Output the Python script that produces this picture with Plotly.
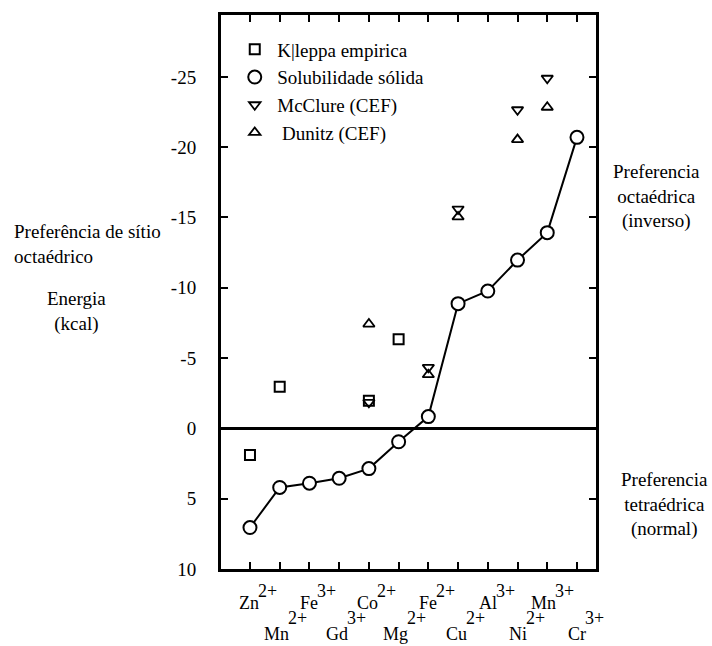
import plotly.graph_objects as go

# Cations along the x axis (symbol, charge)
cations = ["Zn", "Mn", "Fe", "Gd", "Co", "Mg", "Fe", "Cu", "Al", "Ni", "Mn", "Cr"]
charges = ["2+", "2+", "3+", "3+", "2+", "2+", "2+", "2+", "3+", "2+", "3+", "3+"]

# Octahedral site preference energy (kcal), solid-solubility series
solubilidade = [7.05, 4.2, 3.9, 3.55, 2.86, 0.95, -0.84, -8.87, -9.77, -11.97, -13.92, -20.7]

# Kleppa empirical values (cation index, energy)
kleppa_idx = [0, 1, 4, 5]
kleppa_val = [1.9, -2.97, -1.96, -6.34]

# Crystal-field estimates
mcclure_idx = [4, 6, 7, 9, 10]
mcclure_val = [-1.85, -4.34, -15.6, -22.66, -24.9]
dunitz_idx = [4, 6, 7, 9, 10]
dunitz_val = [-7.42, -3.82, -15.04, -20.54, -22.84]

y_ticks = [-25, -20, -15, -10, -5, 0, 5, 10]

FONT = "'Liberation Serif', 'Times New Roman', Times, serif"
n = len(cations)
x_all = list(range(n))

fig = go.Figure()

# connecting line of the solid-solubility series
fig.add_trace(go.Scatter(
    x=x_all, y=solubilidade, mode="lines",
    line=dict(color="black", width=2), showlegend=False, hoverinfo="skip"))

fig.add_trace(go.Scatter(
    x=kleppa_idx, y=kleppa_val, mode="markers", name="K|leppa empirica",
    marker=dict(symbol="square-open", size=10, color="black", line=dict(width=2))))

fig.add_trace(go.Scatter(
    x=x_all, y=solubilidade, mode="markers", name="Solubilidade sólida",
    marker=dict(symbol="circle", size=13, color="white",
                line=dict(color="black", width=2))))

fig.add_trace(go.Scatter(
    x=mcclure_idx, y=mcclure_val, mode="markers", name="McClure (CEF)",
    marker=dict(symbol="triangle-down-open", size=10, color="black", line=dict(width=1.8))))

fig.add_trace(go.Scatter(
    x=dunitz_idx, y=dunitz_val, mode="markers", name=" Dunitz (CEF)",
    marker=dict(symbol="triangle-up-open", size=10, color="black", line=dict(width=1.8))))

fig.update_layout(
    width=712, height=646,
    margin=dict(l=221, r=116, t=12, b=77),
    paper_bgcolor="white", plot_bgcolor="white",
    font=dict(family=FONT, size=19, color="black"),
    showlegend=True,
    legend=dict(x=0.03, y=0.972, xanchor="left", yanchor="top",
                bgcolor="rgba(0,0,0,0)", borderwidth=0, itemwidth=35,
                font=dict(family=FONT, size=19, color="black"),
                tracegroupgap=0),
)

fig.update_xaxes(
    range=[-0.975, 11.64], tickmode="array", tickvals=x_all, showticklabels=False,
    ticks="inside", ticklen=7, tickwidth=2, tickcolor="black",
    showline=True, linewidth=3, linecolor="black", mirror="ticks",
    showgrid=False, zeroline=False,
)

fig.update_yaxes(
    range=[10, -29.4], tickmode="array", tickvals=y_ticks,
    ticktext=[str(v) for v in y_ticks],
    ticks="inside", ticklen=7, tickwidth=2, tickcolor="black",
    showline=True, linewidth=3, linecolor="black", mirror="ticks",
    showgrid=False, zeroline=True, zerolinecolor="black", zerolinewidth=2.5,
    ticklabelstandoff=18,
    tickfont=dict(family=FONT, size=19, color="black"),
)

# cation labels in two staggered rows, charge written as a raised suffix
for i, (c, q) in enumerate(zip(cations, charges)):
    row = i % 2
    base_shift = -34 if row == 0 else -65
    sup_shift = base_shift + 12 if row == 0 else base_shift + 16
    fig.add_annotation(text=c, x=i, xref="x", y=0, yref="paper",
                       xanchor="right", yanchor="middle", xshift=11, yshift=base_shift,
                       showarrow=False, font=dict(family=FONT, size=18, color="black"))
    fig.add_annotation(text=q, x=i, xref="x", y=0, yref="paper",
                       xanchor="left", yanchor="middle", xshift=6, yshift=sup_shift,
                       showarrow=False, font=dict(family=FONT, size=18, color="black"))

side_labels = [
    dict(text="Preferência de sítio<br>octaédrico", x=12, y=242, align="left", xanchor="left"),
    dict(text="Energia<br>(kcal)", x=76, y=310, align="center", xanchor="center"),
    dict(text="Preferencia<br>octaédrica<br>(inverso)", x=656, y=194, align="center", xanchor="center"),
    dict(text="Preferencia<br>tetraédrica<br>(normal)", x=664, y=504, align="center", xanchor="center"),
]
for a in side_labels:
    fig.add_annotation(
        text=a["text"], xref="paper", yref="paper",
        x=(a["x"] - 221) / 375, y=1 - (a["y"] - 12) / 557,
        xanchor=a["xanchor"], yanchor="middle", align=a["align"],
        showarrow=False, font=dict(family=FONT, size=19, color="black"))

fig.write_html("out.html")
